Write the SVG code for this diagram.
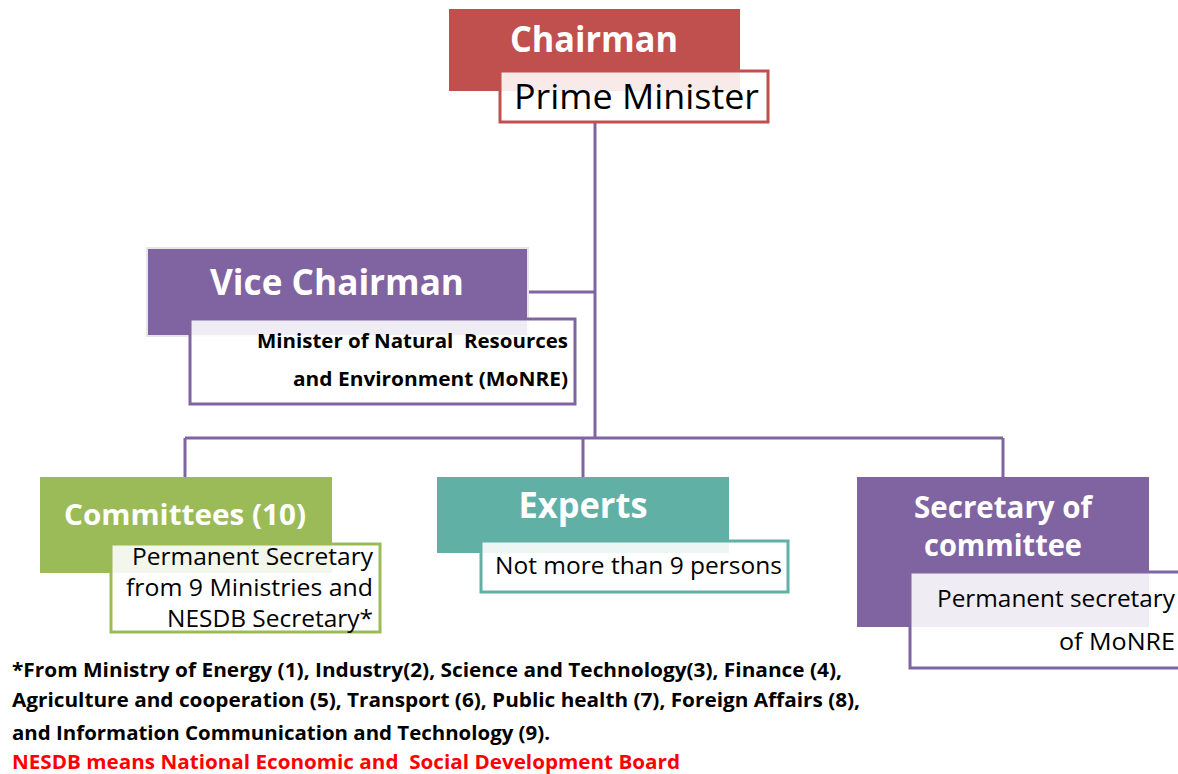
<svg xmlns="http://www.w3.org/2000/svg" width="1178" height="774" viewBox="0 0 1178 774">
<defs>
<style>
.t{font-family:"Open Sans","Noto Sans","Liberation Sans",sans-serif;white-space:pre}
.h{font-weight:bold;fill:#fff}
.lab{fill:#fff;fill-opacity:0.88;stroke-width:3}
.ln{stroke:#8064A2;stroke-width:3;fill:none}
.fn{font-weight:bold;font-size:20px;fill:#000}
</style>
</defs>
<rect width="1178" height="774" fill="#fff"/>
<g id="connectors">
<path class="ln" d="M595,122 V438 M527,292 H595 M185,438 H1003 M185,438 V477 M583,438 V477 M1003,438 V477"/>
</g>
<g id="chairman">
<rect x="449" y="9" width="291" height="82" fill="#C0504D"/>
<text class="t h" x="594" y="52" font-size="35" text-anchor="middle" textLength="168" lengthAdjust="spacingAndGlyphs">Chairman</text>
<rect class="lab" x="500" y="71" width="268" height="51" stroke="#C0504D"/>
<text class="t" x="514" y="109" font-size="35" textLength="245" lengthAdjust="spacingAndGlyphs">Prime Minister</text>
</g>
<g id="vice-chairman">
<rect x="146" y="247" width="383" height="90" fill="#e6e6e6"/>
<rect x="148" y="249" width="379" height="86" fill="#8064A2"/>
<text class="t h" x="337" y="295" font-size="35" text-anchor="middle" textLength="254" lengthAdjust="spacingAndGlyphs">Vice Chairman</text>
<rect class="lab" x="190" y="319" width="385" height="85" stroke="#8064A2"/>
<text class="t" x="568" y="348" font-size="20" font-weight="bold" text-anchor="end" textLength="311" lengthAdjust="spacingAndGlyphs" xml:space="preserve">Minister of Natural  Resources</text>
<text class="t" x="568" y="386" font-size="20" font-weight="bold" text-anchor="end" textLength="275" lengthAdjust="spacingAndGlyphs">and Environment (MoNRE)</text>
</g>
<g id="committees">
<rect x="40" y="477" width="292" height="96" fill="#9BBB59"/>
<text class="t h" x="185" y="525" font-size="29" text-anchor="middle" textLength="242" lengthAdjust="spacingAndGlyphs">Committees (10)</text>
<rect class="lab" x="111" y="544" width="269" height="88" stroke="#9BBB59"/>
<text class="t" x="373" y="565" font-size="23" text-anchor="end" textLength="241" lengthAdjust="spacingAndGlyphs">Permanent Secretary</text>
<text class="t" x="373" y="596" font-size="23" text-anchor="end" textLength="247" lengthAdjust="spacingAndGlyphs">from 9 Ministries and</text>
<text class="t" x="373" y="627" font-size="23" text-anchor="end" textLength="206" lengthAdjust="spacingAndGlyphs">NESDB Secretary*</text>
</g>
<g id="experts">
<rect x="437" y="477" width="292" height="76" fill="#60B0A6"/>
<text class="t h" x="583" y="518" font-size="35" text-anchor="middle" textLength="129" lengthAdjust="spacingAndGlyphs">Experts</text>
<rect class="lab" x="481" y="541" width="307" height="51" stroke="#60B0A6"/>
<text class="t" x="495" y="574" font-size="23" textLength="287" lengthAdjust="spacingAndGlyphs">Not more than 9 persons</text>
</g>
<g id="secretary">
<rect x="857" y="477" width="292" height="150" fill="#8064A2"/>
<text class="t h" x="1003" y="518" font-size="30" text-anchor="middle" textLength="178" lengthAdjust="spacingAndGlyphs">Secretary of</text>
<text class="t h" x="1003" y="556" font-size="30" text-anchor="middle" textLength="158" lengthAdjust="spacingAndGlyphs">committee</text>
<rect class="lab" x="910" y="572" width="272" height="96" stroke="#8064A2"/>
<text class="t" x="1175" y="607" font-size="23" text-anchor="end" textLength="238" lengthAdjust="spacingAndGlyphs">Permanent secretary</text>
<text class="t" x="1175" y="650" font-size="23" text-anchor="end" textLength="116" lengthAdjust="spacingAndGlyphs">of MoNRE</text>
</g>
<g id="footnote">
<text class="t fn" x="12" y="677" textLength="830" lengthAdjust="spacingAndGlyphs">*From Ministry of Energy (1), Industry(2), Science and Technology(3), Finance (4),</text>
<text class="t fn" x="12" y="707" textLength="848" lengthAdjust="spacingAndGlyphs">Agriculture and cooperation (5), Transport (6), Public health (7), Foreign Affairs (8),</text>
<text class="t fn" x="12" y="740" textLength="538" lengthAdjust="spacingAndGlyphs">and Information Communication and Technology (9).</text>
<text class="t fn" x="12" y="769" style="fill:#ff0000" textLength="668" lengthAdjust="spacingAndGlyphs" xml:space="preserve">NESDB means National Economic and  Social Development Board</text>
</g>
</svg>
